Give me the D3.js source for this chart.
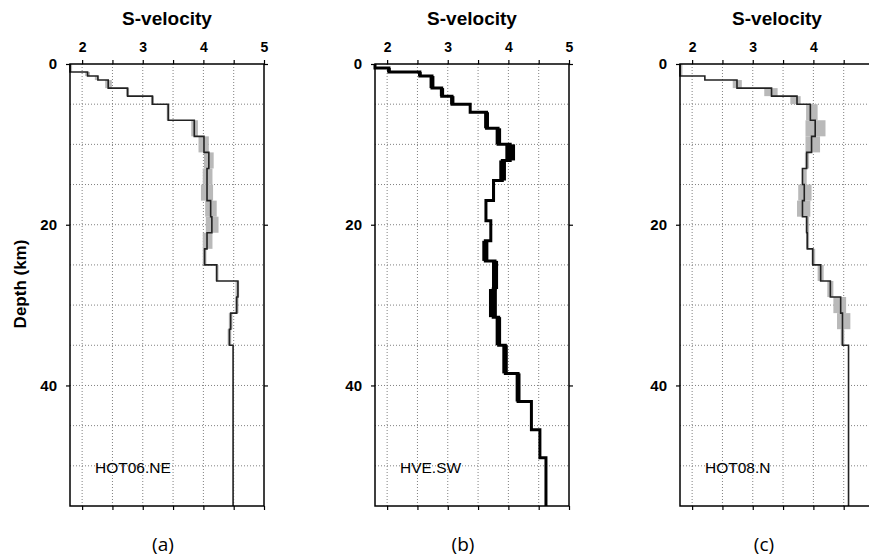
<!DOCTYPE html>
<html>
<head>
<meta charset="utf-8">
<script src="https://cdn.jsdelivr.net/npm/d3@7"></script>
<style>
  html, body { margin: 0; padding: 0; background: #fff; }
  svg { display: block; }
</style>
</head>
<body>
<svg id="chart" width="869" height="558"></svg>
<script>
// ---------------- data ----------------
const xTickValues = [2, 2.5, 3, 3.5, 4, 4.5, 5];
const xGridValues = [2, 2.5, 3, 3.5, 4, 4.5];
const yTickValues = [0, 20, 40];
const yGridValues = [5, 10, 15, 20, 25, 30, 35, 40, 45, 50];
const maxDepth = 55;

const stations = ["HOT06.NE", "HVE.SW", "HOT08.N"];
const panelLetters = ["(a)", "(b)", "(c)"];

// Panel (a) HOT06.NE : layer top depths (km), S-velocity, band low/high
const topsA = [0, 1, 1.5, 2, 3, 4, 5, 7, 9, 11, 13, 15, 17, 19, 21, 23, 25, 27, 29, 31, 33, 35];
const velA  = [1.8, 2.09, 2.26, 2.43, 2.75, 3.16, 3.42, 3.85, 4.01, 4.09, 4.06, 4.06, 4.12, 4.14, 4.06, 4.02, 4.22, 4.57, 4.55, 4.45, 4.43, 4.49];
const lowA  = [1.8, 2.05, 2.21, 2.38, 2.73, 3.14, 3.40, 3.80, 3.92, 4.01, 3.99, 3.96, 4.03, 4.04, 3.99, 3.99, 4.20, 4.53, 4.52, 4.42, 4.40, 4.49];
const highA = [1.82, 2.13, 2.28, 2.49, 2.77, 3.18, 3.44, 3.91, 4.09, 4.17, 4.15, 4.16, 4.22, 4.25, 4.15, 4.05, 4.25, 4.59, 4.58, 4.48, 4.46, 4.49];

// Panel (b) HVE.SW
const topsB = [0, 0.5, 1, 1.5, 3, 4, 5, 6, 8, 10, 12, 14.5, 17, 19.5, 22, 24.5, 28, 31.5, 35, 38.5, 42, 45.5, 49];
const velB  = [1.8, 2.03, 2.54, 2.74, 2.90, 3.07, 3.37, 3.64, 3.83, 4.03, 3.90, 3.755, 3.63, 3.71, 3.62, 3.78, 3.75, 3.84, 3.95, 4.16, 4.38, 4.52, 4.62];
const lowB  = [1.8, 2.00, 2.51, 2.70, 2.87, 3.04, 3.37, 3.60, 3.79, 3.95, 3.85, 3.73, 3.63, 3.71, 3.57, 3.73, 3.68, 3.79, 3.90, 4.12, 4.38, 4.52, 4.62];
const highB = [1.8, 2.06, 2.57, 2.78, 2.94, 3.11, 3.37, 3.68, 3.88, 4.11, 3.96, 3.78, 3.63, 3.71, 3.67, 3.83, 3.81, 3.88, 3.99, 4.20, 4.38, 4.52, 4.62];

// Panel (c) HOT08.N
const topsC = [0, 1.5, 2, 3, 4, 5, 7, 9, 11, 13, 15, 17, 19, 21, 23, 25, 27, 29, 31, 33, 35];
const velC  = [1.8, 2.21, 2.74, 3.31, 3.73, 3.95, 4.03, 3.97, 3.89, 3.82, 3.85, 3.82, 3.89, 3.90, 3.99, 4.12, 4.28, 4.45, 4.48, 4.48, 4.58];
const lowC  = [1.81, 2.21, 2.67, 3.19, 3.62, 3.88, 3.87, 3.87, 3.86, 3.81, 3.75, 3.73, 3.87, 3.88, 3.97, 4.07, 4.23, 4.33, 4.39, 4.45, 4.58];
const highC = [1.82, 2.21, 2.82, 3.41, 3.79, 4.07, 4.20, 4.11, 3.93, 3.89, 3.97, 3.95, 3.93, 3.93, 4.03, 4.17, 4.33, 4.54, 4.61, 4.51, 4.58];

// ---------------- layout ----------------
const W = 869;
const panelLeft = [70, 375, 680];
const panelWidth = 194;
const plotTop = 64, plotBottom = 506;
const letterX = [163, 463, 764];

const panels = [
  { tops: topsA, vel: velA, low: lowA, high: highA, bandColor: "#b9b9b9", lineColor: "#222", lineWidth: 1.6, minBand: 3 },
  { tops: topsB, vel: velB, low: lowB, high: highB, bandColor: "#000", lineColor: "#000", lineWidth: 3, minBand: 0 },
  { tops: topsC, vel: velC, low: lowC, high: highC, bandColor: "#b9b9b9", lineColor: "#222", lineWidth: 1.6, minBand: 3 }
];

const svg = d3.select("#chart");
const font = "'Liberation Sans', Arial, Helvetica, sans-serif";

const y = d3.scaleLinear().domain([0, maxDepth]).range([plotTop, plotBottom]);

panels.forEach((p, i) => {
  const x = d3.scaleLinear().domain([1.8, 5]).range([panelLeft[i], panelLeft[i] + panelWidth]);
  const g = svg.append("g");

  // grid
  g.selectAll("line.vg").data(xGridValues).enter().append("line")
    .attr("x1", d => x(d)).attr("x2", d => x(d))
    .attr("y1", plotTop).attr("y2", plotBottom)
    .attr("stroke", "#808080").attr("stroke-width", 1).attr("stroke-dasharray", "1,2");
  g.selectAll("line.hg").data(yGridValues).enter().append("line")
    .attr("x1", x.range()[0]).attr("x2", x.range()[1])
    .attr("y1", d => y(d)).attr("y2", d => y(d))
    .attr("stroke", "#808080").attr("stroke-width", 1).attr("stroke-dasharray", "1,2");

  // layers
  const layers = p.tops.map((t, k) => ({
    top: t,
    bot: k < p.tops.length - 1 ? p.tops[k + 1] : maxDepth,
    v: p.vel[k], lo: p.low[k], hi: p.high[k]
  }));

  // uncertainty band
  g.selectAll("rect.band").data(layers.filter(l => l.hi - l.lo > 0.001)).enter().append("rect")
    .attr("x", l => { const w = x(l.hi) - x(l.lo); return w < p.minBand ? x((l.lo + l.hi) / 2) - p.minBand / 2 : x(l.lo); })
    .attr("width", l => Math.max(x(l.hi) - x(l.lo), p.minBand))
    .attr("y", l => y(l.top))
    .attr("height", l => y(l.bot) - y(l.top))
    .attr("fill", p.bandColor);

  // step profile
  const pts = [];
  layers.forEach(l => { pts.push([l.v, l.top]); pts.push([l.v, l.bot]); });
  g.append("path")
    .attr("d", d3.line().x(d => x(d[0])).y(d => y(d[1]))(pts))
    .attr("fill", "none").attr("stroke", p.lineColor).attr("stroke-width", p.lineWidth)
    .attr("stroke-linejoin", "miter");

  // frame
  g.append("rect")
    .attr("x", x.range()[0]).attr("y", plotTop)
    .attr("width", panelWidth).attr("height", plotBottom - plotTop)
    .attr("fill", "none").attr("stroke", "#000").attr("stroke-width", 1.5);

  // axes
  const axTop = g.append("g").attr("transform", `translate(0,${plotTop})`)
    .call(d3.axisTop(x).tickValues(xTickValues).tickSize(4).tickPadding(8).tickSizeOuter(0)
      .tickFormat(d => (Number.isInteger(d) && x(d) + 6 < W) ? d3.format("d")(d) : ""));
  const axBot = g.append("g").attr("transform", `translate(0,${plotBottom})`)
    .call(d3.axisBottom(x).tickValues(xTickValues).tickSize(4).tickSizeOuter(0).tickFormat(""));
  const axLeft = g.append("g").attr("transform", `translate(${x.range()[0]},0)`)
    .call(d3.axisLeft(y).tickValues(yTickValues).tickSize(4).tickPadding(9).tickSizeOuter(0));
  const axRight = g.append("g").attr("transform", `translate(${x.range()[1]},0)`)
    .call(d3.axisRight(y).tickValues(yTickValues).tickSize(4).tickSizeOuter(0).tickFormat(""));
  [axTop, axBot, axLeft, axRight].forEach(a => {
    a.select(".domain").remove();
    a.selectAll(".tick line").attr("stroke", "#000").attr("stroke-width", 1.2);
  });
  axTop.selectAll("text").attr("font-family", font).attr("font-weight", "bold").attr("font-size", 14).attr("fill", "#000");
  axLeft.selectAll("text").attr("font-family", font).attr("font-weight", "bold").attr("font-size", 15).attr("fill", "#000");

  // title
  g.append("text")
    .attr("x", x.range()[0] + panelWidth / 2).attr("y", 25)
    .attr("text-anchor", "middle")
    .attr("font-family", font).attr("font-weight", "bold").attr("font-size", 19)
    .text("S-velocity");

  // station label
  g.append("text")
    .attr("x", x.range()[0] + 25).attr("y", 473)
    .attr("font-family", font).attr("font-size", 15.5)
    .text(stations[i]);

  // panel letter
  svg.append("text")
    .attr("x", letterX[i]).attr("y", 551)
    .attr("text-anchor", "middle")
    .attr("font-family", "'Open Sans', 'Noto Sans', sans-serif").attr("font-size", 19)
    .text(panelLetters[i]);
});

// y axis title
svg.append("text")
  .attr("transform", "translate(26,284) rotate(-90)")
  .attr("text-anchor", "middle")
  .attr("font-family", font).attr("font-weight", "bold").attr("font-size", 17)
  .text("Depth (km)");
</script>
</body>
</html>
